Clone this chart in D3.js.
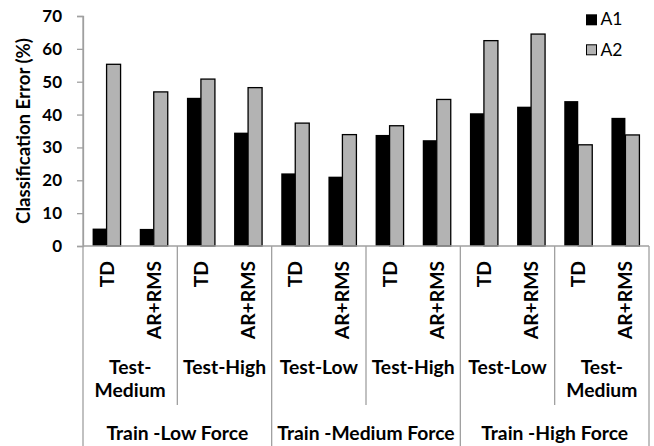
<!DOCTYPE html>
<html>
<head>
<meta charset="utf-8">
<script src="https://cdn.jsdelivr.net/npm/d3@7"></script>
<style>
  html, body { margin: 0; padding: 0; background: #fff; }
  svg { display: block; }
  text { font-family: Lato, "Open Sans", sans-serif; fill: #000; }
</style>
</head>
<body>
<svg id="chart" width="654" height="446"></svg>
<script>
// ---- data ----
const methods = ["TD", "AR+RMS", "TD", "AR+RMS", "TD", "AR+RMS", "TD", "AR+RMS", "TD", "AR+RMS", "TD", "AR+RMS"];
const testGroups = [["Test-", "Medium"], ["Test-High"], ["Test-Low"], ["Test-High"], ["Test-Low"], ["Test-", "Medium"]];
const trainGroups = ["Train -Low Force", "Train -Medium Force", "Train -High Force"];
const seriesNames = ["A1", "A2"];
const A1 = [5.3, 5.2, 45.1, 34.5, 22.1, 21.1, 33.8, 32.2, 40.4, 42.4, 44.1, 39.0];
const A2 = [55.3, 46.9, 50.8, 48.2, 37.4, 33.9, 36.6, 44.6, 62.5, 64.5, 30.8, 33.8];
const yTicks = [0, 10, 20, 30, 40, 50, 60, 70];
const yTitle = "Classification Error (%)";

// ---- layout ----
const svg = d3.select("#chart");
const mLeft = 83, mRight = 649, mTop = 16, mBottom = 246;
const axisColor = "#a0a0a0";
const colors = { A1: "#000000", A2: "#b3b3b3" };
const catFont = "19.3px";

const idx = d3.range(methods.length);
const x = d3.scaleBand().domain(idx).range([mLeft, mRight]).padding(0);
const xSub = d3.scaleBand().domain(seriesNames).range([0, x.bandwidth()]).paddingInner(0).paddingOuter(0.685);
const y = d3.scaleLinear().domain([0, 70]).range([mBottom, mTop]);

// y axis
const yAxis = d3.axisLeft(y).tickValues(yTicks).tickSize(6).tickPadding(15).tickFormat(d3.format("d"));
const gy = svg.append("g").attr("transform", `translate(${mLeft},0)`).call(yAxis);
gy.select(".domain").attr("stroke", axisColor).attr("stroke-width", 1.3);
gy.selectAll(".tick line").attr("stroke", axisColor).attr("stroke-width", 1.3);
gy.selectAll(".tick text")
  .style("font-family", "Lato, sans-serif").style("font-weight", 700).style("font-size", "17px").attr("fill", "#000");

// axis title
svg.append("text")
  .attr("transform", `translate(30,${(mTop + mBottom) / 2}) rotate(-90)`)
  .attr("text-anchor", "middle")
  .style("font-weight", 700).style("font-size", "18.6px")
  .text(yTitle);

// bars
const data = idx.map(i => ({ i, A1: A1[i], A2: A2[i] }));
const gBars = svg.append("g");
seriesNames.forEach(s => {
  gBars.selectAll(null).data(data).enter().append("rect")
    .attr("x", d => x(d.i) + xSub(s))
    .attr("width", xSub.bandwidth())
    .attr("y", d => y(d[s]))
    .attr("height", d => y(0) - y(d[s]))
    .attr("fill", colors[s])
    .attr("stroke", s === "A2" ? "#000" : "none")
    .attr("stroke-width", 1.3);
});

// x axis (multi-level)
const gx = svg.append("g");
gx.append("line").attr("x1", mLeft).attr("x2", mRight).attr("y1", mBottom).attr("y2", mBottom)
  .attr("stroke", axisColor).attr("stroke-width", 1.3);
// level-2 separators (inside each train group)
[2, 6, 10].forEach(k => {
  const xx = x(k);
  gx.append("line").attr("x1", xx).attr("x2", xx).attr("y1", mBottom).attr("y2", 405)
    .attr("stroke", axisColor).attr("stroke-width", 1.3);
});
// level-3 separators
d3.range(0, trainGroups.length + 1).forEach(k => {
  const xx = k === trainGroups.length ? mRight : x(k * 4);
  gx.append("line").attr("x1", xx).attr("x2", xx).attr("y1", k === 0 ? mTop : mBottom).attr("y2", 446)
    .attr("stroke", axisColor).attr("stroke-width", 1.3);
});

// level-1 labels (rotated)
gx.selectAll(null).data(idx).enter().append("text")
  .attr("transform", i => `translate(${x(i) + x.bandwidth() / 2},261) rotate(-90)`)
  .attr("text-anchor", "end")
  .attr("dy", "0.36em")
  .style("font-weight", 700).style("font-size", catFont)
  .text(i => methods[i]);

// level-2 labels
testGroups.forEach((lines, k) => {
  const cx = x(k * 2) + x.bandwidth();
  const t = gx.append("text").attr("text-anchor", "middle")
    .style("font-weight", 700).style("font-size", catFont);
  lines.forEach((ln, j) => {
    t.append("tspan").attr("x", cx).attr("y", 373.5 + j * 23.4).text(ln);
  });
});

// level-3 labels
trainGroups.forEach((lab, k) => {
  const x0 = x(k * 4), x1 = k === trainGroups.length - 1 ? mRight : x(k * 4 + 4);
  gx.append("text").attr("x", (x0 + x1) / 2).attr("y", 439.5)
    .attr("text-anchor", "middle")
    .style("font-weight", 700).style("font-size", catFont)
    .text(lab);
});

// legend
const lg = svg.append("g");
seriesNames.forEach((s, k) => {
  const yb = 25.3 + k * 30.5;
  lg.append("rect").attr("x", s === "A1" ? 586 : 586.5).attr("y", yb - 11).attr("width", s === "A1" ? 11 : 10).attr("height", s === "A1" ? 11 : 10)
    .attr("fill", colors[s]).attr("stroke", s === "A2" ? "#000" : "none").attr("stroke-width", 1);
  lg.append("text").attr("x", 600.5).attr("y", yb)
    .style("font-weight", 400).style("font-size", "17.5px")
    .text(s);
});
</script>
</body>
</html>
